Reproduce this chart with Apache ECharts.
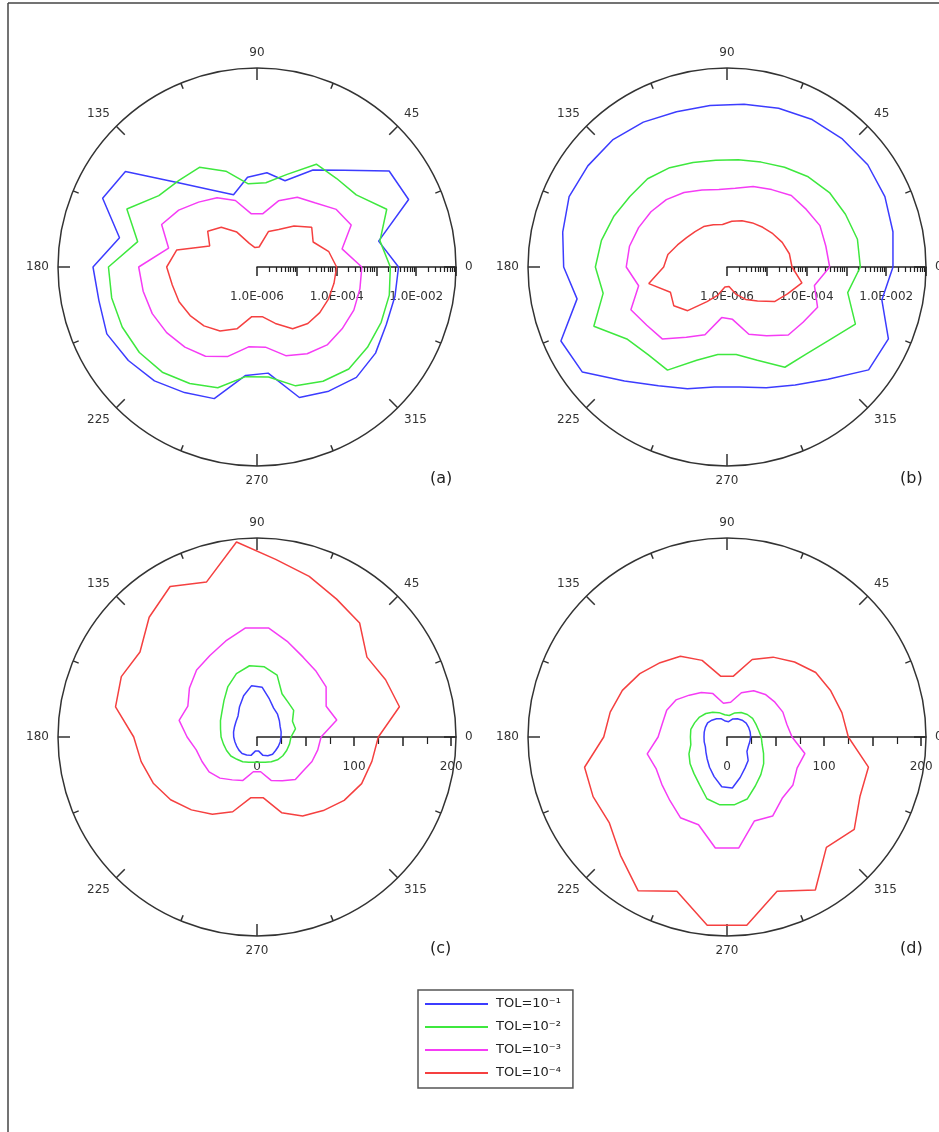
<!DOCTYPE html>
<html><head><meta charset="utf-8">
<script src="https://cdn.jsdelivr.net/npm/echarts@6/dist/echarts.min.js"></script>
<style>html,body{margin:0;padding:0;background:#fff}#c{width:939px;height:1132px}</style>
</head><body><div id="c"></div><script>
// angles (degrees) of the sampled directions
const angles = [0,12,24,36,48,60,72,84,96,108,120,132,144,156,168,180,192,204,216,228,240,252,264,276,288,300,312,324,336,348];
const tolNames = ['TOL=10⁻¹','TOL=10⁻²','TOL=10⁻³','TOL=10⁻⁴'];
const tolColors = ['#3c3cff','#3ee83e','#f53cf5','#f54040'];
const angleTickLabels = [0,45,90,135,180,225,270,315];
// (a) log-scale radii
const aBlue = [3.6e-3,1.33e-3,1.48e-2,1.27e-2,1.86e-3,6.5e-4,1.9e-4,2.4e-4,1.86e-4,8.1e-5,1.69e-4,6.6e-4,1.22e-2,1.76e-2,3.4e-3,1.32e-2,1.15e-2,1.35e-2,9.9e-3,7.1e-3,4.4e-3,3.0e-3,5.5e-4,4.8e-4,2.8e-3,4.0e-3,5.4e-3,4.8e-3,3.6e-3,3.5e-3];
const aGreen = [2.24e-3,1.44e-3,3.7e-3,1.21e-3,9.8e-4,9.6e-4,2.8e-4,1.34e-4,1.26e-4,3.4e-4,7.8e-4,8.5e-4,1.12e-3,3.8e-3,1.16e-3,5.4e-3,5.4e-3,5.1e-3,4.5e-3,3.6e-3,2.4e-3,1.55e-3,5.9e-4,6.0e-4,1.38e-3,2.07e-3,2.8e-3,2.7e-3,2.6e-3,2.5e-3];
const aMagenta = [4.3e-4,1.53e-4,3.9e-4,2.9e-4,1.48e-4,1.06e-4,5.6e-5,2.2e-5,2.2e-5,5.7e-5,1.02e-4,1.56e-4,2.7e-4,4.2e-4,1.86e-4,9.4e-4,8.4e-4,7.6e-4,6.4e-4,5.1e-4,3.9e-4,2.3e-4,1.04e-4,1.06e-4,2.2e-4,3.3e-4,4.3e-4,4.4e-4,4.6e-4,4.4e-4];
const aRed = [1.0e-4,7.0e-5,3.5e-5,5.0e-5,2.45e-5,1.23e-5,8.7e-6,3.2e-6,3.1e-6,4.2e-6,1.03e-5,2.2e-5,3.4e-5,2.0e-5,1.15e-4,1.86e-4,1.5e-4,1.39e-4,1.19e-4,9.8e-5,7.2e-5,4.3e-5,1.8e-5,1.8e-5,3.1e-5,6.2e-5,8.1e-5,8.9e-5,9.3e-5,9.5e-5];
// (b) log-scale radii
const bBlue = [1.48e-2,1.83e-2,2.2e-2,2.35e-2,2.14e-2,1.9e-2,1.57e-2,1.29e-2,1.2e-2,1.27e-2,1.6e-2,1.98e-2,2.1e-2,2.2e-2,1.66e-2,1.27e-2,7.1e-3,3.7e-2,3.1e-2,7.1e-3,2.8e-3,1.64e-3,1.08e-3,1.08e-3,1.55e-3,2.66e-3,6.2e-3,2.5e-2,2.75e-2,9.5e-3];
const bGreen = [2.24e-3,2.24e-3,1.81e-3,1.52e-3,1.12e-3,7.8e-4,5.9e-4,5.1e-4,5.0e-4,5.8e-4,7.6e-4,9.6e-4,1.04e-3,1.31e-3,1.68e-3,2.03e-3,1.52e-3,4.6e-3,1.23e-3,9.2e-4,9.8e-4,2.9e-4,1.63e-4,1.63e-4,2.9e-4,8.1e-4,9.0e-4,1.41e-3,3.4e-3,1.26e-3];
const bMagenta = [3.8e-4,3.45e-4,3.6e-4,2.9e-4,2.6e-4,1.76e-4,1.34e-4,9.7e-5,9.1e-5,1.08e-4,1.45e-4,1.9e-4,2.3e-4,2.7e-4,3.2e-4,3.4e-4,1.86e-4,4.4e-4,3.1e-4,2.7e-4,1.1e-4,6.2e-5,1.9e-5,2.1e-5,6.0e-5,9.8e-5,2.0e-4,2.3e-4,3.1e-4,1.76e-4];
const bRed = [4.3e-5,4.0e-5,3.3e-5,2.65e-5,2.2e-5,1.9e-5,1.67e-5,1.43e-5,1.18e-5,1.3e-5,1.49e-5,1.58e-5,1.8e-5,2.3e-5,3.3e-5,3.9e-5,1.02e-4,3.6e-5,4.5e-5,3.0e-5,1.01e-5,5.5e-6,3.2e-6,3.1e-6,5.2e-6,8.7e-6,1.4e-5,3.0e-5,4.6e-5,8.4e-5];
// (c) linear radii
const cBlue = [24.7,25.4,26.1,28.5,31.6,34.3,41.2,51.5,53.2,44.6,36,29.2,26.8,25.4,24.7,24,23.3,23,23,23,21.3,19.9,14.4,14.4,19.9,22.3,24,23.7,24,24.4];
const cGreen = [35,40.5,40,46.7,48,51.5,67,72.7,73.8,68.6,60,50.8,44.6,41.2,38.4,37,35.3,34.3,33.3,30.9,29.5,27.4,26.1,26.1,27.4,29.5,31.6,32.9,33.6,34.3];
const cMagenta = [66,84,78,88,91,95,103,113,113,104,97,93,86,78,82,72,64,62,61,57,51,47,36,36,47,52,59,59,62,64];
const cRed = [125,150,145,140,158,164,174,184,202,168,179,166,149,153,149,127,122,117,110,101,92,81,63,63,82,94,102,111,118,121];
// (d) linear radii
const dBlue = [24.4,24.4,24.4,24.4,23.3,21.6,19.6,15.8,16.5,19.9,21.6,23.3,24.7,24.4,24,23.7,24,24.4,26.8,30.5,36,42.9,51.5,52.8,43.9,37,32.6,25.4,24,24];
const dGreen = [35.3,33.3,32.6,32.6,31.2,29.2,26.1,22.3,23,26.4,29.5,32.6,35,36.4,38.1,37.7,38.1,42.9,47,50.8,56.6,66.9,70.3,70.3,67.2,58.3,52.1,46.7,41.2,37];
const dMagenta = [67,63,63,61,59,55,48,36,35,47,53,58,65,68,68,71,84,80,83,88,96,95,115,115,91,94,85,84,79,82];
const dRed = [125,121,117,113,104,95,84,63,63,83,96,103,111,118,123,127,150,151,150,164,183,167,195,195,167,182,153,162,150,149];
// radial tick values
const logMajorTicks = [1e-6,1e-5,1e-4,1e-3,1e-2,1e-1];
const logMinorSteps = [2,3,4,5,6,7,8,9];
const logLabelTicks = [1e-6,1e-4,1e-2];
const linMajorTicks = [0,50,100,150,200];
const linMinorTicks = [25,75,125,175];
const linLabelTicks = [0,100,200];
const panelLetters = ['(a)','(b)','(c)','(d)'];

const centers = [[257,267],[727,267],[257,737],[727,737]];
const R = 199;
const panelSeries = [[aBlue,aGreen,aMagenta,aRed],[bBlue,bGreen,bMagenta,bRed],[cBlue,cGreen,cMagenta,cRed],[dBlue,dGreen,dMagenta,dRed]];
const isLog = [true,true,false,false];
const logMinorTicks = [];
logMajorTicks.slice(0,-1).forEach(d => logMinorSteps.forEach(s => logMinorTicks.push(+(d*s).toPrecision(3))));

const FONT = 'DejaVu Sans';
const fmtLog = v => { const e = Math.round(Math.log10(v)); return '1.0E' + (e < 0 ? '-' : '+') + String(Math.abs(e)).padStart(3,'0'); };

const polar = [], angleAxis = [], radiusAxis = [], series = [], graphic = [];
for (let i = 0; i < 4; i++) {
  polar.push({center: centers[i], radius: R});
}
for (let i = 0; i < 4; i++) {
  polar.push({center: centers[i], radius: R});
}
for (let i = 0; i < 4; i++) {
  angleAxis.push({
    polarIndex: i, type: 'value', min: 0, max: 360, interval: 45, startAngle: 0, clockwise: false,
    axisLine: {lineStyle: {color: '#333', width: 1.5}},
    axisTick: {show: true, inside: true, length: 12, lineStyle: {color: '#333', width: 1.5}},
    minorTick: {show: true, splitNumber: 2, length: 6, lineStyle: {color: '#333', width: 1.5}},
    splitLine: {show: false}, minorSplitLine: {show: false},
    axisLabel: {margin: 9, color: '#333', fontSize: 12, fontFamily: FONT,
      formatter: v => angleTickLabels.indexOf(v) >= 0 ? String(v) : ''}
  });
  const log = isLog[i];
  radiusAxis.push({
    polarIndex: i,
    type: log ? 'log' : 'value', logBase: 10,
    min: log ? 1e-6 : 0, max: log ? 1e-1 : 205,
    axisLine: {lineStyle: {color: '#222', width: 1.5}},
    axisTick: {show: true, length: -9, customValues: log ? logMajorTicks : linMajorTicks, lineStyle: {color: '#222', width: 1.5}},
    axisLabel: {show: true, margin: -36, customValues: log ? logLabelTicks : linLabelTicks, color: '#333', fontSize: 12, fontFamily: FONT,
      formatter: log ? fmtLog : (v => String(v))},
    splitLine: {show: false}
  });
}
for (let i = 0; i < 4; i++) {
  const log = isLog[i];
  angleAxis.push({polarIndex: i + 4, type: 'value', min: 0, max: 360, startAngle: 0, clockwise: false, show: false});
  radiusAxis.push({
    polarIndex: i + 4,
    type: log ? 'log' : 'value', logBase: 10,
    min: log ? 1e-6 : 0, max: log ? 1e-1 : 205,
    axisLine: {show: false}, axisLabel: {show: false}, splitLine: {show: false},
    axisTick: {show: true, length: log ? -5 : -7, customValues: log ? logMinorTicks : linMinorTicks, lineStyle: {color: '#222', width: 1.2}}
  });
}
for (let i = 0; i < 4; i++) {
  panelSeries[i].forEach((vals, k) => {
    const data = angles.map((a, j) => [vals[j], a]);
    data.push([vals[0], 360]);
    series.push({
      type: 'line', coordinateSystem: 'polar', polarIndex: i, name: tolNames[k],
      data, showSymbol: false, symbol: 'none', silent: true, clip: false,
      lineStyle: {color: tolColors[k], width: 1.5}, itemStyle: {color: tolColors[k]}
    });
  });
  graphic.push({type: 'text', left: centers[i][0] + 173, top: centers[i][1] + 204,
    style: {text: panelLetters[i], fontSize: 16, fontFamily: FONT, fill: '#222'}});
}
graphic.push({type: 'line', shape: {x1: 8, y1: 3, x2: 939, y2: 3}, style: {stroke: '#444', lineWidth: 1.5}});
graphic.push({type: 'line', shape: {x1: 8, y1: 3, x2: 8, y2: 1132}, style: {stroke: '#444', lineWidth: 1.5}});

const chart = echarts.init(document.getElementById('c'), null, {renderer: 'canvas'});
chart.setOption({
  backgroundColor: '#fff',
  animation: false,
  polar, angleAxis, radiusAxis, series, graphic,
  legend: {
    data: tolNames, orient: 'vertical', left: 418, top: 990,
    icon: 'rect', itemWidth: 63, itemHeight: 2, itemGap: 9,
    padding: [7, 12, 8, 7], borderColor: '#555', borderWidth: 1.5,
    textStyle: {fontSize: 13, fontFamily: FONT, color: '#222', lineHeight: 14, padding: [0, 0, 0, 3]},
    selectedMode: false
  }
});
</script></body></html>
